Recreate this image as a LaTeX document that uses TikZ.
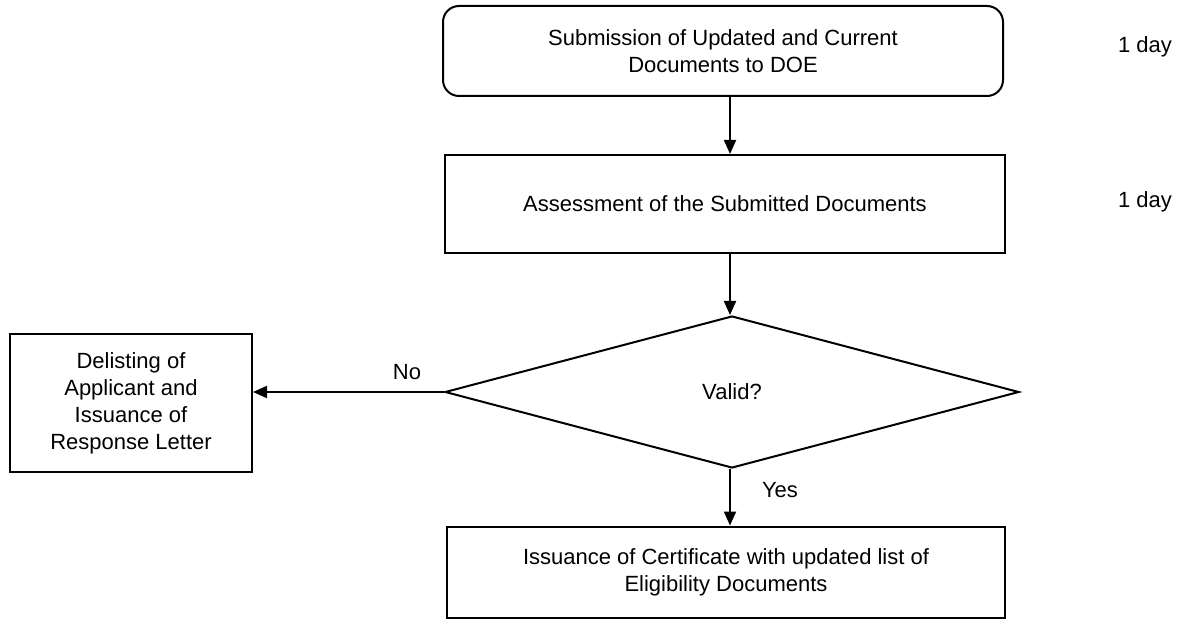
\documentclass[tikz,border=0pt]{standalone}
\usepackage{fontspec}
\setmainfont{Liberation Sans}
\usetikzlibrary{shapes.geometric,arrows.meta}
\begin{document}
\begin{tikzpicture}[x=1pt,y=-1pt,
  every node/.style={font=\fontsize{22}{27}\selectfont},
  boxstyle/.style={draw, line width=2pt, align=center, inner sep=4pt},
  rboxstyle/.style={boxstyle, rounded corners=16pt},
  decstyle/.style={draw, line width=2pt, shape=diamond, inner sep=0pt, aspect=3.8},
  arr/.style={line width=2pt, -{Triangle[length=14pt,width=12pt]}},
  lbl/.style={inner sep=0pt}]
\useasboundingbox (0,0) rectangle (1183,620);
\coordinate (ax) at (730,0);
\node[rboxstyle, minimum width=560pt, minimum height=90pt] (sub) at (723,51)
  {Submission of Updated and Current\\Documents to DOE};
\node[boxstyle, minimum width=560pt, minimum height=98pt] (ass) at (725,204)
  {Assessment of the Submitted Documents};
\node[decstyle, minimum width=574pt, minimum height=152pt] (val) at (732,392) {Valid?};
\node[boxstyle, minimum width=242pt, minimum height=138pt] (del) at (131,403)
  {Delisting of\\Applicant and\\Issuance of\\Response Letter};
\node[boxstyle, minimum width=558pt, minimum height=91pt] (iss) at (726,572)
  {Issuance of Certificate with updated list of\\Eligibility Documents};
\node[lbl] (d1) at (1145,47) {1 day};
\node[lbl] (d2) at (1145,202) {1 day};
\draw[arr] (sub.south -| ax) -- (ass.north -| ax);
\draw[arr] (ass.south -| ax) -- (val.north -| ax);
\draw[arr] (val.south -| ax) -- (iss.north -| ax);
\draw[arr] (val.west) -- (del.east |- val.west);
\node[lbl] (no) at (407,372) {No};
\node[lbl] (yes) at (780,490) {Yes};
\end{tikzpicture}
\end{document}
